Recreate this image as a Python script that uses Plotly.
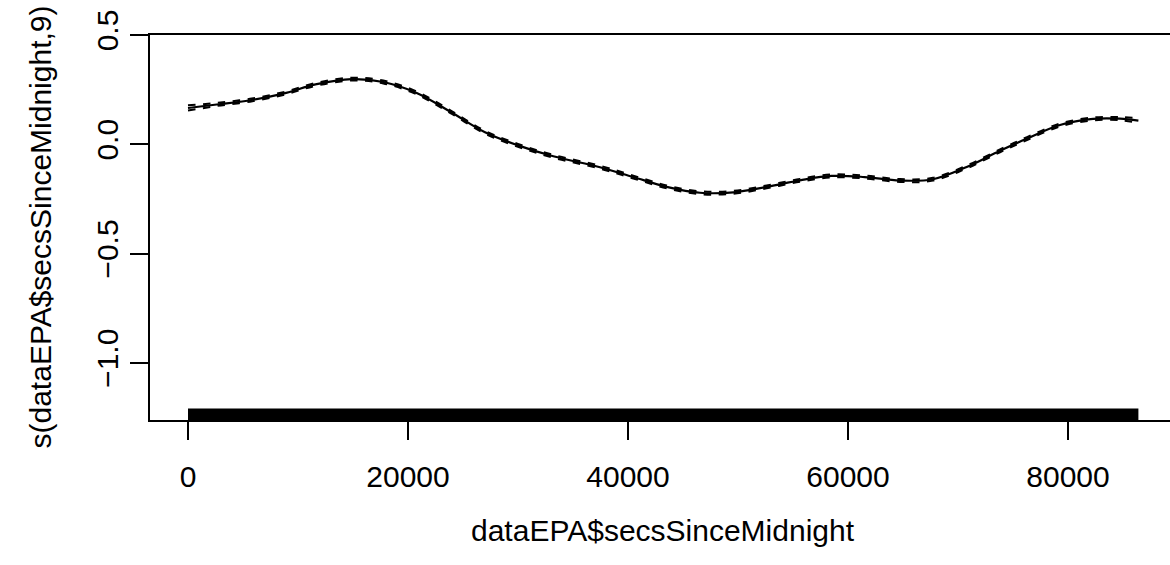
import plotly.graph_objects as go

# --- data ---
secs = [0, 2609, 5636, 8664, 11700, 14882, 17755, 20791, 23818, 27000, 30000,
        33209, 37455, 40482, 43518, 46545, 49573, 52609, 55636, 58500, 61500,
        64727, 67727, 70791, 73818, 76273, 79273, 82273, 84727, 86400]
fit = [0.166, 0.182, 0.2015, 0.232, 0.275, 0.298, 0.285, 0.235, 0.150, 0.055, -0.005,
       -0.055, -0.105, -0.150, -0.195, -0.222, -0.220, -0.195, -0.165, -0.145, -0.150,
       -0.166, -0.160, -0.104, -0.030, 0.026, 0.088, 0.116, 0.117, 0.108]
se = [0.012, 0.007, 0.0065, 0.0065, 0.0065, 0.0065, 0.0065, 0.0065, 0.0065, 0.0065, 0.0065,
      0.0065, 0.0065, 0.0065, 0.0065, 0.0065, 0.0065, 0.0065, 0.0065, 0.0065, 0.0065,
      0.0065, 0.0065, 0.0065, 0.0065, 0.0065, 0.0065, 0.0065, 0.007, 0.011]
rug_range = [0, 86400]   # observations cover the whole day -> solid rug band

x_ticks = [0, 20000, 40000, 60000, 80000]
y_ticks = [-1.0, -0.5, 0.0, 0.5]
y_tick_text = ["\u22121.0", "\u22120.5", "0.0", "0.5"]

x_title = "dataEPA$secsSinceMidnight"
y_title = "s(dataEPA$secsSinceMidnight,9)"

upper = [f + s for f, s in zip(fit, se)]
lower = [f - s for f, s in zip(fit, se)]

FONT = "Liberation Sans, Arial, Helvetica, sans-serif"
FS = 30

fig = go.Figure()
for band in (upper, lower):
    fig.add_trace(go.Scatter(x=secs, y=band, mode="lines",
                             line=dict(color="black", width=2, dash="7.5px,7.5px",
                                       shape="spline", smoothing=1.0),
                             hoverinfo="skip", showlegend=False))
fig.add_trace(go.Scatter(x=secs, y=fit, mode="lines",
                         line=dict(color="black", width=2.2, shape="spline", smoothing=1.0),
                         showlegend=False))

# rug band
fig.add_shape(type="rect", xref="x", yref="y domain",
              x0=rug_range[0], x1=rug_range[1], y0=0, y1=0.03,
              fillcolor="black", line=dict(width=0), layer="above")

fig.update_layout(
    width=1170, height=565,
    margin=dict(l=150, r=0, t=35, b=145),
    paper_bgcolor="white", plot_bgcolor="white",
    font=dict(family=FONT, size=FS, color="black"),
    showlegend=False,
    xaxis=dict(range=[-3455, 89273], tickmode="array", tickvals=x_ticks,
               ticktext=[str(v) for v in x_ticks],
               showgrid=False, zeroline=False, showline=True, mirror=True,
               linecolor="black", linewidth=2, ticks="outside", ticklen=18,
               tickwidth=2, tickcolor="black", ticklabelstandoff=11,
               tickfont=dict(family=FONT, size=FS, color="black")),
    yaxis=dict(range=[-1.262, 0.5], tickmode="array", tickvals=y_ticks,
               ticktext=y_tick_text, tickangle=-90,
               showgrid=False, zeroline=False, showline=True, mirror=False,
               linecolor="black", linewidth=2, ticks="outside", ticklen=18,
               tickwidth=2, tickcolor="black",
               tickfont=dict(family=FONT, size=FS, color="black")),
    annotations=[
        dict(text=x_title, xref="paper", yref="paper", x=(663 - 150) / 1020,
             y=-(530 - 419.5) / 384.5, xanchor="center", yanchor="middle",
             showarrow=False, font=dict(family=FONT, size=FS, color="black")),
        dict(text=y_title, xref="paper", yref="paper", x=-(150 - 40) / 1020,
             y=0.5, textangle=-90, xanchor="center", yanchor="middle",
             showarrow=False, font=dict(family=FONT, size=FS, color="black")),
    ],
)

fig.write_html("out.html")
